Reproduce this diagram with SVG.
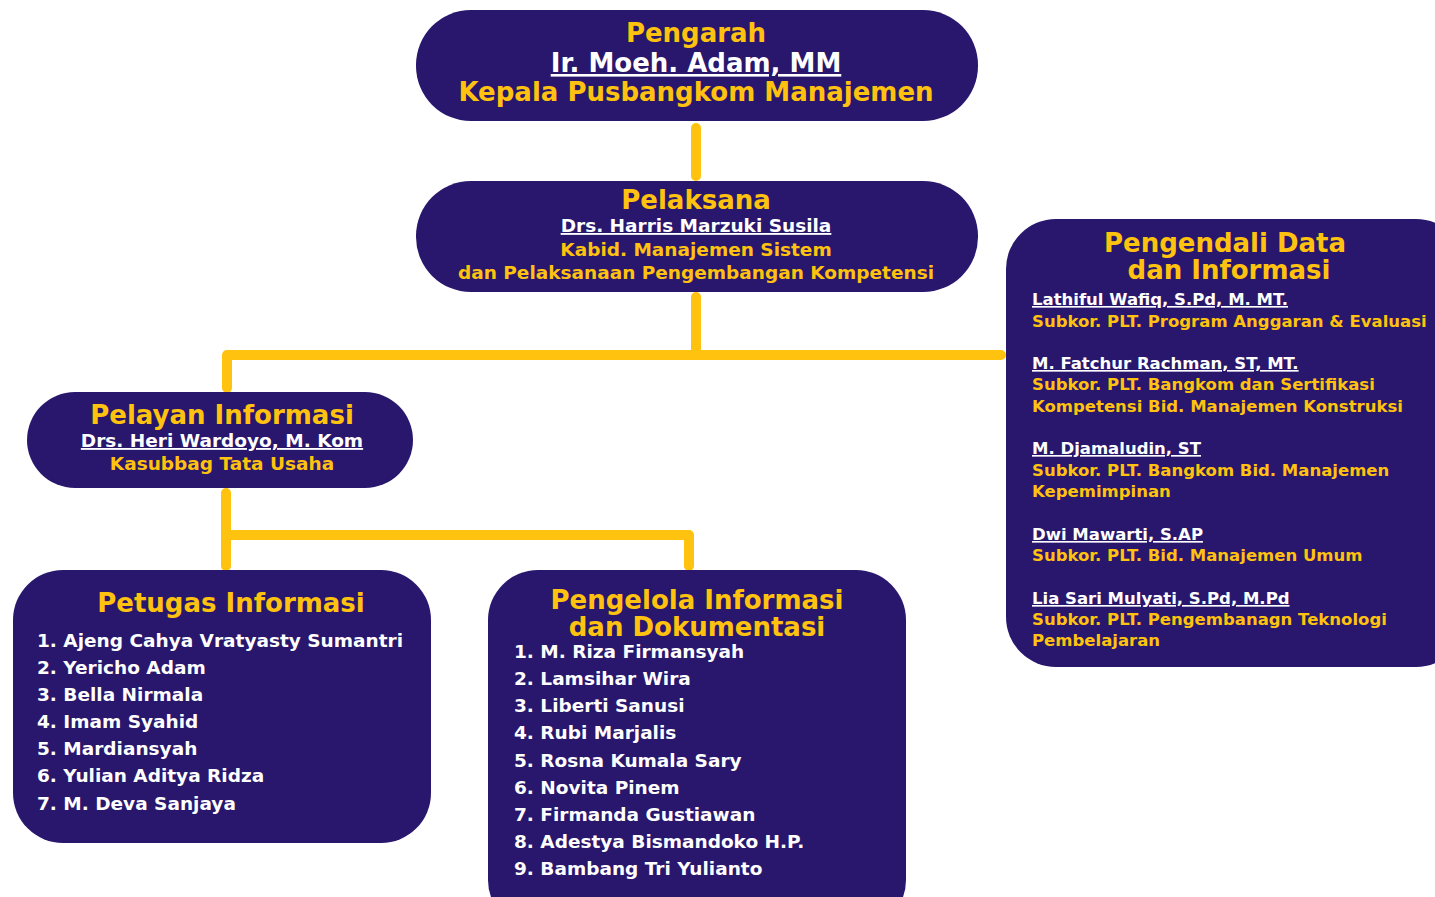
<svg xmlns="http://www.w3.org/2000/svg" width="1435" height="897" viewBox="0 0 1435 897">
<style>
.box{fill:#28176d}
.t{font-family:"DejaVu Sans","Liberation Sans",sans-serif;font-weight:bold}
.y{fill:#ffc20e}
.w{fill:#ffffff}
.h{font-size:26px}
.m{font-size:18.5px}
.l{font-size:18.5px}
.r{font-size:16.5px}
.u{text-decoration:underline;text-decoration-thickness:1px}
.c{text-anchor:middle}
.con{fill:none;stroke:#ffc20e;stroke-width:10;stroke-linecap:round;stroke-linejoin:round}
</style>
<rect width="1435" height="897" fill="#ffffff"/>
<g id="connectors">
<path class="con" d="M696 128V176"/>
<path class="con" d="M696 297V355"/>
<path class="con" d="M227 388V355H1001"/>
<path class="con" d="M226 493V566"/>
<path class="con" d="M226 535H689V566"/>
</g>
<g id="pengarah">
<rect class="box" x="416" y="10" width="562" height="111" rx="55"/>
<text class="t y h c" x="696" y="42">Pengarah</text>
<text class="t w h c u" x="696" y="72">Ir. Moeh. Adam, MM</text>
<text class="t y h c" x="696" y="101">Kepala Pusbangkom Manajemen</text>
</g>
<g id="pelaksana">
<rect class="box" x="416" y="181" width="562" height="111" rx="55"/>
<text class="t y h c" x="696" y="209">Pelaksana</text>
<text class="t w m c u" x="696" y="232">Drs. Harris Marzuki Susila</text>
<text class="t y m c" x="696" y="256">Kabid. Manajemen Sistem</text>
<text class="t y m c" x="696" y="279">dan Pelaksanaan Pengembangan Kompetensi</text>
</g>
<g id="pelayan">
<rect class="box" x="27" y="392" width="386" height="96" rx="48"/>
<text class="t y h c" x="222" y="424">Pelayan Informasi</text>
<text class="t w m c u" x="222" y="447">Drs. Heri Wardoyo, M. Kom</text>
<text class="t y m c" x="222" y="470">Kasubbag Tata Usaha</text>
</g>
<g id="petugas">
<rect class="box" x="13" y="570" width="418" height="273" rx="50"/>
<text class="t y h c" x="231" y="612">Petugas Informasi</text>
<text class="t w l" x="37" y="647">1. Ajeng Cahya Vratyasty Sumantri</text>
<text class="t w l" x="37" y="674">2. Yericho Adam</text>
<text class="t w l" x="37" y="701">3. Bella Nirmala</text>
<text class="t w l" x="37" y="728">4. Imam Syahid</text>
<text class="t w l" x="37" y="755">5. Mardiansyah</text>
<text class="t w l" x="37" y="782">6. Yulian Aditya Ridza</text>
<text class="t w l" x="37" y="810">7. M. Deva Sanjaya</text>
</g>
<g id="pengelola">
<rect class="box" x="488" y="570" width="418" height="360" rx="50"/>
<text class="t y h c" x="697" y="609">Pengelola Informasi</text>
<text class="t y h c" x="697" y="636">dan Dokumentasi</text>
<text class="t w l" x="514" y="658">1. M. Riza Firmansyah</text>
<text class="t w l" x="514" y="685">2. Lamsihar Wira</text>
<text class="t w l" x="514" y="712">3. Liberti Sanusi</text>
<text class="t w l" x="514" y="739">4. Rubi Marjalis</text>
<text class="t w l" x="514" y="767">5. Rosna Kumala Sary</text>
<text class="t w l" x="514" y="794">6. Novita Pinem</text>
<text class="t w l" x="514" y="821">7. Firmanda Gustiawan</text>
<text class="t w l" x="514" y="848">8. Adestya Bismandoko H.P.</text>
<text class="t w l" x="514" y="875">9. Bambang Tri Yulianto</text>
</g>
<g id="pengendali">
<rect class="box" x="1006" y="219" width="460" height="448" rx="50"/>
<text class="t y h c" x="1225" y="252">Pengendali Data</text>
<text class="t y h c" x="1229" y="279">dan Informasi</text>
<text class="t w r u" x="1032" y="305">Lathiful Wafiq, S.Pd, M. MT.</text>
<text class="t y r" x="1032" y="327">Subkor. PLT. Program Anggaran &amp; Evaluasi</text>
<text class="t w r u" x="1032" y="369">M. Fatchur Rachman, ST, MT.</text>
<text class="t y r" x="1032" y="390">Subkor. PLT. Bangkom dan Sertifikasi</text>
<text class="t y r" x="1032" y="412">Kompetensi Bid. Manajemen Konstruksi</text>
<text class="t w r u" x="1032" y="454">M. Djamaludin, ST</text>
<text class="t y r" x="1032" y="476">Subkor. PLT. Bangkom Bid. Manajemen</text>
<text class="t y r" x="1032" y="497">Kepemimpinan</text>
<text class="t w r u" x="1032" y="540">Dwi Mawarti, S.AP</text>
<text class="t y r" x="1032" y="561">Subkor. PLT. Bid. Manajemen Umum</text>
<text class="t w r u" x="1032" y="604">Lia Sari Mulyati, S.Pd, M.Pd</text>
<text class="t y r" x="1032" y="625">Subkor. PLT. Pengembanagn Teknologi</text>
<text class="t y r" x="1032" y="646">Pembelajaran</text>
</g>
</svg>
